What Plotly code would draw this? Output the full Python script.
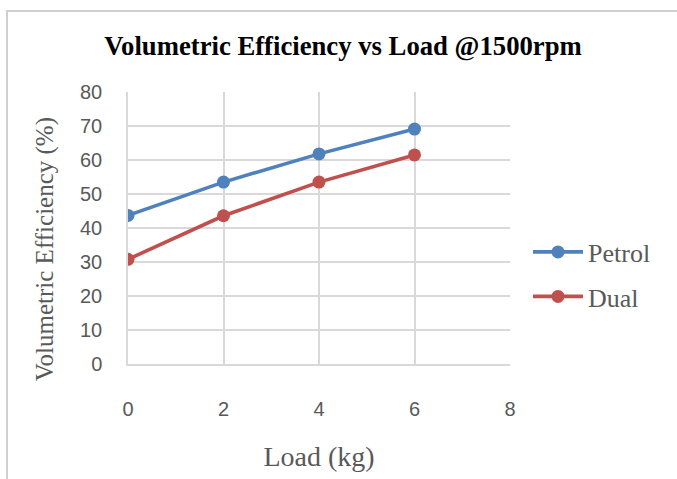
import plotly.graph_objects as go

loads = [0, 2, 4, 6]
petrol = [43.7, 53.5, 61.8, 69.1]
dual = [30.8, 43.6, 53.5, 61.5]
x_ticks = [0, 2, 4, 6, 8]
y_ticks = [0, 10, 20, 30, 40, 50, 60, 70, 80]

W, H = 677, 479
L, R, T, B = 128, 167, 92, 112
pw, ph = W - L - R, H - T - B

def px(x):
    return (x - L) / pw

def py(y):
    return (H - B - y) / ph

serif = "Liberation Serif, Times New Roman, serif"
sans = "Liberation Sans, Arial, sans-serif"

fig = go.Figure()
fig.add_trace(go.Scatter(x=loads, y=petrol, name="Petrol", mode="lines+markers",
                         line=dict(color="#4F81BD", width=3.6),
                         marker=dict(color="#4F81BD", size=13), legend="legend"))
fig.add_trace(go.Scatter(x=loads, y=dual, name="Dual", mode="lines+markers",
                         line=dict(color="#C0504D", width=3.6),
                         marker=dict(color="#C0504D", size=13), legend="legend2"))

leg_common = dict(xanchor="left", yanchor="top", itemwidth=50,
                  bgcolor="rgba(0,0,0,0)",
                  font=dict(family=serif, size=26, color="#595959"))

fig.update_layout(
    width=W, height=H,
    margin=dict(l=L, r=R, t=T, b=B),
    paper_bgcolor="white", plot_bgcolor="white",
    title=dict(text="<b>Volumetric Efficiency vs Load @1500rpm</b>",
               x=px(343), xanchor="center", xref="paper",
               y=1 - 46 / H, yanchor="middle",
               font=dict(family=serif, size=26.7, color="black")),
    xaxis=dict(range=[0, 8], tickvals=x_ticks, showgrid=True, gridcolor="#D9D9D9",
               gridwidth=1.5, zeroline=False, showline=True, linecolor="#D9D9D9", linewidth=1.5,
               ticks="", ticklabelstandoff=26,
               tickfont=dict(family=sans, size=20, color="#595959"),
               title=dict(text="Load (kg)", standoff=28,
                          font=dict(family=serif, size=28, color="#595959"))),
    yaxis=dict(range=[0, 80], tickvals=y_ticks, showgrid=True, gridcolor="#D9D9D9",
               gridwidth=1.5, zeroline=False, showline=True, linecolor="#D9D9D9", linewidth=1.5,
               ticks="", ticklabelstandoff=20,
               tickfont=dict(family=sans, size=20, color="#595959")),
    annotations=[dict(text="Volumetric Efficiency (%)", textangle=-90,
                      xref="paper", yref="paper", x=px(45), y=py(251),
                      xanchor="center", yanchor="middle", showarrow=False,
                      font=dict(family=serif, size=25, color="#595959"))],
    legend=dict(x=px(528), y=py(230), **leg_common),
    legend2=dict(x=px(528), y=py(275), **leg_common),
    showlegend=True,
    shapes=[dict(type="rect", xref="paper", yref="paper",
                 x0=px(7), x1=px(690), y0=py(495), y1=py(10),
                 line=dict(color="#D0D0D0", width=2), layer="below")],
)

fig.write_html("out.html")
